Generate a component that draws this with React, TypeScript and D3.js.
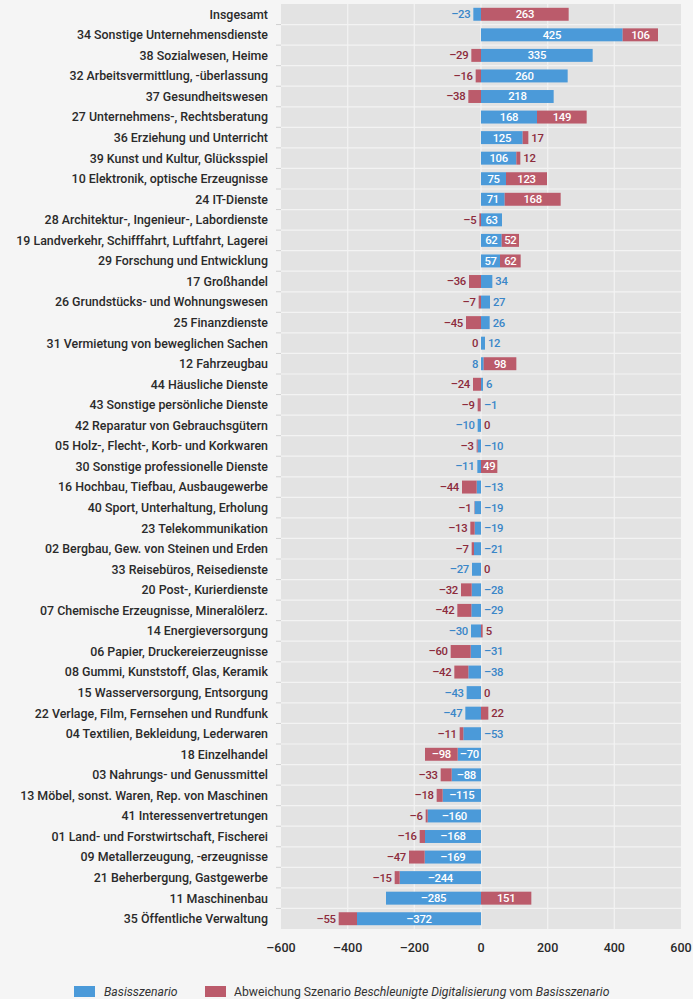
import React from "react";
import * as d3 from "d3";

const categories = [
  "Insgesamt",
  "34 Sonstige Unternehmensdienste",
  "38 Sozialwesen, Heime",
  "32 Arbeitsvermittlung, -überlassung",
  "37 Gesundheitswesen",
  "27 Unternehmens-, Rechtsberatung",
  "36 Erziehung und Unterricht",
  "39 Kunst und Kultur, Glücksspiel",
  "10 Elektronik, optische Erzeugnisse",
  "24 IT-Dienste",
  "28 Architektur-, Ingenieur-, Labordienste",
  "19 Landverkehr, Schifffahrt, Luftfahrt, Lagerei",
  "29 Forschung und Entwicklung",
  "17 Großhandel",
  "26 Grundstücks- und Wohnungswesen",
  "25 Finanzdienste",
  "31 Vermietung von beweglichen Sachen",
  "12 Fahrzeugbau",
  "44 Häusliche Dienste",
  "43 Sonstige persönliche Dienste",
  "42 Reparatur von Gebrauchsgütern",
  "05 Holz-, Flecht-, Korb- und Korkwaren",
  "30 Sonstige professionelle Dienste",
  "16 Hochbau, Tiefbau, Ausbaugewerbe",
  "40 Sport, Unterhaltung, Erholung",
  "23 Telekommunikation",
  "02 Bergbau, Gew. von Steinen und Erden",
  "33 Reisebüros, Reisedienste",
  "20 Post-, Kurierdienste",
  "07 Chemische Erzeugnisse, Mineralölerz.",
  "14 Energieversorgung",
  "06 Papier, Druckereierzeugnisse",
  "08 Gummi, Kunststoff, Glas, Keramik",
  "15 Wasserversorgung, Entsorgung",
  "22 Verlage, Film, Fernsehen und Rundfunk",
  "04 Textilien, Bekleidung, Lederwaren",
  "18 Einzelhandel",
  "03 Nahrungs- und Genussmittel",
  "13 Möbel, sonst. Waren, Rep. von Maschinen",
  "41 Interessenvertretungen",
  "01 Land- und Forstwirtschaft, Fischerei",
  "09 Metallerzeugung, -erzeugnisse",
  "21 Beherbergung, Gastgewerbe",
  "11 Maschinenbau",
  "35 Öffentliche Verwaltung",
];

const basis = [
  -23, 425, 335, 260, 218, 168, 125, 106, 75, 71, 63, 62, 57, 34, 27, 26, 12, 8, 6, -1,
  -10, -10, -11, -13, -19, -19, -21, -27, -28, -29, -30, -31, -38, -43, -47, -53, -70,
  -88, -115, -160, -168, -169, -244, -285, -372,
];

const abweichung = [
  263, 106, -29, -16, -38, 149, 17, 12, 123, 168, -5, 52, 62, -36, -7, -45, 0, 98, -24,
  -9, 0, -3, 49, -44, -1, -13, -7, 0, -32, -42, 5, -60, -42, 0, 22, -11, -98, -33, -18,
  -6, -16, -47, -15, 151, -55,
];

const xTicks = [-600, -400, -200, 0, 200, 400, 600];

const seriesKeys = ["basis", "abweichung"];
const seriesNames = ["Basisszenario", "Abweichung"];

const BLUE = "#4b9ad9";
const RED = "#bb5b6b";
const BLUE_TEXT = "#3a86c8";
const RED_TEXT = "#8c2b3c";
const FONT = "Roboto, 'Noto Sans', sans-serif";

const fmt = (v: number) => (v < 0 ? "\u2013" + Math.abs(v) : String(v));

export default function App() {
  const W = 693;
  const H = 999;
  const x = d3.scaleLinear().domain([-600, 600]).range([281, 681]);
  const y = d3
    .scaleBand<string>()
    .domain(categories)
    .range([4, 929])
    .paddingInner(0.37)
    .paddingOuter(0.185);
  const step = y.step();

  const rows = categories.map((c, i) => ({ cat: c, basis: basis[i], abweichung: abweichung[i] }));
  const stacked = d3
    .stack<any>()
    .keys(seriesKeys)
    .offset(d3.stackOffsetDiverging)(rows);

  const colors = [BLUE, RED];
  const textColors = [BLUE_TEXT, RED_TEXT];

  const labels: any[] = [];
  rows.forEach((r, i) => {
    const vals = [r.basis, r.abweichung];
    const segs = stacked.map((s) => s[i]);
    const sides = vals.map((v) => Math.sign(v));
    if (sides[1] === 0) sides[1] = -sides[0] || 1;
    if (sides[0] === 0) sides[0] = -sides[1] || 1;
    const cy = (y(r.cat) as number) + y.bandwidth() / 2;
    vals.forEach((v, k) => {
      const t = fmt(v);
      const x0 = x(segs[k][0]);
      const x1 = x(segs[k][1]);
      const bw = Math.abs(x1 - x0);
      const est = t.length * 5.5;
      if (v !== 0 && bw >= est + 5) {
        labels.push({ x: (x0 + x1) / 2, y: cy, t, anchor: "middle", fill: "#ffffff" });
        return;
      }
      const side = sides[k];
      const other = 1 - k;
      const otherSameSide = sides[other] === side && vals[other] !== 0;
      const isOuter = k === 1 || !otherSameSide;
      if (v === 0) {
        const px = x(0) + side * 3;
        labels.push({ x: px, y: cy, t, anchor: side > 0 ? "start" : "end", fill: textColors[k] });
      } else if (isOuter) {
        const end = side > 0 ? Math.max(x0, x1) : Math.min(x0, x1);
        labels.push({ x: end + side * 3, y: cy, t, anchor: side > 0 ? "start" : "end", fill: textColors[k] });
      } else {
        const px = x(0) - side * 3;
        labels.push({ x: px, y: cy, t, anchor: side > 0 ? "end" : "start", fill: textColors[k] });
      }
    });
  });

  const panelTop = 4;
  const panelBottom = 929;

  return (
    <svg
      width={W}
      height={H}
      style={{ position: "absolute", left: 0, top: 0, display: "block" }}
      fontFamily={FONT}
    >
      <rect x={0} y={0} width={W} height={H} fill="#f5f5f5" />
      <rect x={x(-600)} y={panelTop} width={x(600) - x(-600)} height={panelBottom - panelTop} fill="#e3e3e3" />
      {xTicks.slice(1, -1).map((t) => (
        <line key={"g" + t} x1={x(t)} x2={x(t)} y1={panelTop} y2={panelBottom} stroke="#f1f1f1" strokeWidth={1.3} />
      ))}
      {categories.slice(1).map((c, i) => {
        const yy = panelTop + step * (i + 1);
        return (
          <g key={"s" + i}>
            <line x1={x(-600)} x2={x(600)} y1={yy} y2={yy} stroke="#f3f3f3" strokeWidth={1.2} />
            <line x1={276} x2={281} y1={yy} y2={yy} stroke="#d0d0d0" strokeWidth={1} />
          </g>
        );
      })}
      {stacked.map((s, k) => (
        <g key={seriesKeys[k]} fill={colors[k]}>
          {s.map((d, i) => {
            const a = x(d[0]);
            const b = x(d[1]);
            return (
              <rect
                key={i}
                x={Math.min(a, b)}
                y={y(categories[i]) as number}
                width={Math.abs(b - a)}
                height={y.bandwidth()}
              />
            );
          })}
        </g>
      ))}
      {labels.map((l, i) => (
        <text
          key={"l" + i}
          x={l.x}
          y={l.y}
          dy="0.35em"
          textAnchor={l.anchor}
          fill={l.fill}
          fontSize={11.3}
          fontWeight={500}
          letterSpacing={-0.3}
        >
          {l.t}
        </text>
      ))}
      {categories.map((c) => (
        <text
          key={"c" + c}
          x={268}
          y={(y(c) as number) + y.bandwidth() / 2}
          dy="0.35em"
          textAnchor="end"
          fill="#2a2a2a"
          fontSize={12.4}
          fontWeight={500}
          letterSpacing={0}
        >
          {c}
        </text>
      ))}
      {xTicks.map((t) => (
        <text key={"t" + t} x={x(t)} y={952} textAnchor="middle" fill="#2a2a2a" fontSize={12.5} fontWeight={500}>
          {fmt(t)}
        </text>
      ))}
      <rect x={74} y={986} width={21} height={11} fill={BLUE} />
      <text x={104} y={995.5} fontSize={12.2} fill="#333" fontStyle="italic">
        {seriesNames[0]}
      </text>
      <rect x={205} y={986} width={21} height={11} fill={RED} />
      <text x={234} y={995.5} fontSize={12.2} fill="#333">
        <tspan>Abweichung Szenario </tspan>
        <tspan fontStyle="italic">Beschleunigte Digitalisierung</tspan>
        <tspan> vom </tspan>
        <tspan fontStyle="italic">Basisszenario</tspan>
      </text>
    </svg>
  );
}
